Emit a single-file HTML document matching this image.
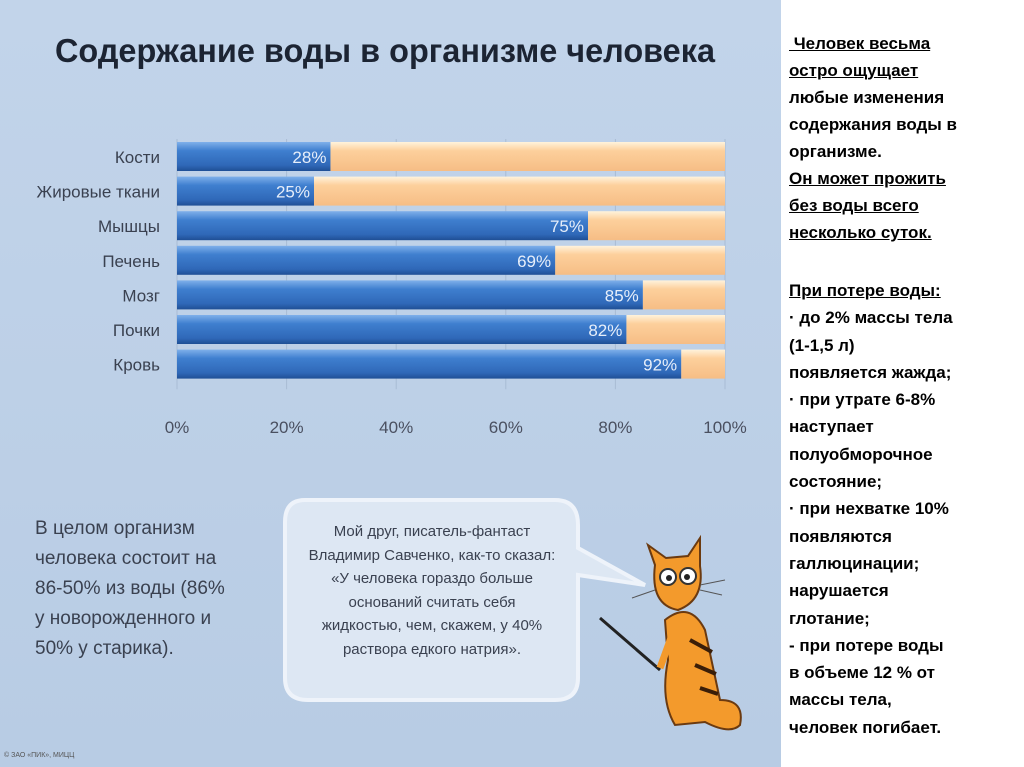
<!DOCTYPE html>
<html><head><meta charset="utf-8">
<style>
body{margin:0;width:1024px;height:767px;overflow:hidden;background:#fff;font-family:"Liberation Sans",sans-serif;}
#panel{position:absolute;left:0;top:0;width:781px;height:767px;background:linear-gradient(#c2d4ea,#b8cce4);}
#right{position:absolute;left:789px;top:30px;width:235px;font:bold 17px "Liberation Sans",sans-serif;color:#000;}
#right div{height:27px;line-height:27px;white-space:pre;}
#right div.b2{height:27.3px;line-height:27.3px;}
.u{text-decoration:underline;}
.t{position:absolute;font-family:"Liberation Sans Narrow","Liberation Sans",sans-serif;color:#3a4150;}
</style></head><body>
<div id="panel">
<svg width="781" height="767" style="position:absolute;left:0;top:0">
<defs>
<linearGradient id="gb" x1="0" y1="0" x2="0" y2="1"><stop offset="0" stop-color="#7fb0ea"/><stop offset="0.3" stop-color="#3f7fcf"/><stop offset="0.8" stop-color="#2f68b8"/><stop offset="1" stop-color="#1f4f95"/></linearGradient>
<linearGradient id="go" x1="0" y1="0" x2="0" y2="1"><stop offset="0" stop-color="#fff3dc"/><stop offset="0.3" stop-color="#fdd09c"/><stop offset="1" stop-color="#f6bd85"/></linearGradient>
</defs>
<text x="55" y="62" font-family="Liberation Sans Narrow, Liberation Sans, sans-serif" font-size="33" font-weight="bold" fill="#1c2433" textLength="660" lengthAdjust="spacingAndGlyphs">Содержание воды в организме человека</text>
<g id="chart"></g>
<path d="M305,500 H555 Q578,500 578,525 V548 L645,585 L578,575 V678 Q578,700 555,700 H308 Q285,700 285,678 V522 Q285,500 305,500 Z" fill="#dde7f3" stroke="#eef3fa" stroke-width="4"/>
<g>
<line x1="600" y1="618" x2="660" y2="670" stroke="#222" stroke-width="3"/>
<path d="M665,620 Q690,600 705,630 L720,700 Q745,700 740,725 Q730,735 705,722 L675,725 Q660,700 668,660 Z" fill="#f39a2c" stroke="#6b3a10" stroke-width="2"/>
<path d="M690,640 L712,652 M695,665 L716,674 M700,688 L718,694" stroke="#3a1e08" stroke-width="4"/>
<path d="M655,565 L648,545 L666,558 L688,556 L700,538 L700,566 Q705,600 678,610 Q650,605 655,565 Z" fill="#f39a2c" stroke="#6b3a10" stroke-width="2"/>
<circle cx="668" cy="577" r="8" fill="#fff" stroke="#333" stroke-width="2"/>
<circle cx="688" cy="576" r="8" fill="#fff" stroke="#333" stroke-width="2"/>
<circle cx="669" cy="578" r="3" fill="#222"/><circle cx="687" cy="577" r="3" fill="#222"/>
<path d="M700,585 L725,580 M700,590 L722,595 M655,590 L632,598" stroke="#555" stroke-width="1"/>
<path d="M672,635 L660,668" stroke="#f39a2c" stroke-width="7"/>
</g>
</svg>
<div class="t" style="left:35px;top:514px;font-size:19px;line-height:30px;width:200px">В целом организм<br>человека состоит на<br>86-50% из воды (86%<br>у новорожденного и<br>50% у старика).</div>
<div class="t" style="left:292px;top:520px;width:280px;text-align:center;font-size:15px;line-height:23.5px">Мой друг, писатель-фантаст<br>Владимир Савченко, как-то сказал:<br>«У человека гораздо больше<br>оснований считать себя<br>жидкостью, чем, скажем, у 40%<br>раствора едкого натрия».</div>
<div class="t" style="left:4px;top:752px;font-size:7px;color:#555">© ЗАО «ПИК», МИЦЦ</div>
</div>
<div id="right">
<div><span class="u"> Человек весьма</span></div>
<div><span class="u">остро ощущает</span></div>
<div>любые изменения</div>
<div>содержания воды в</div>
<div>организме.</div>
<div><span class="u">Он может прожить</span></div>
<div><span class="u">без воды всего</span></div>
<div><span class="u">несколько суток.</span></div>
<div style="height:31px"> </div>
<div class="b2"><span class="u">При потере воды:</span></div>
<div class="b2">· до 2% массы тела</div>
<div class="b2">(1-1,5 л)</div>
<div class="b2">появляется жажда;</div>
<div class="b2">· при утрате 6-8%</div>
<div class="b2">наступает</div>
<div class="b2">полуобморочное</div>
<div class="b2">состояние;</div>
<div class="b2">· при нехватке 10%</div>
<div class="b2">появляются</div>
<div class="b2">галлюцинации;</div>
<div class="b2">нарушается</div>
<div class="b2">глотание;</div>
<div class="b2">- при потере воды</div>
<div class="b2">в объеме 12 % от</div>
<div class="b2">массы тела,</div>
<div class="b2">человек погибает.</div>
</div>
<script>
const categories=["Кости","Жировые ткани","Мышцы","Печень","Мозг","Почки","Кровь"];
const waterValues=[28,25,75,69,85,82,92];
const tickLabels=["0%","20%","40%","60%","80%","100%"];
const tickValues=[0,20,40,60,80,100];
const NS="http://www.w3.org/2000/svg";
const g=document.getElementById("chart");
const x0=177,x1=725,yTop=139,band=34.6,bh=29;
const xs=v=>x0+(x1-x0)*v/100;
const ys=i=>yTop+i*band;
function mk(t,a){const e=document.createElementNS(NS,t);for(const k in a)e.setAttribute(k,a[k]);g.appendChild(e);return e;}
tickValues.forEach((v,i)=>{
  const l=mk("line",{x1:xs(v),x2:xs(v),y1:yTop,y2:yTop+band*categories.length+8,stroke:"#a9bcd4","stroke-width":1});
  
  
  const t=mk("text",{x:xs(v),y:433,"text-anchor":"middle","font-size":17,fill:"#4a5060","font-family":"Liberation Sans Narrow, Liberation Sans, sans-serif"});
  t.textContent=tickLabels[i];
  
  
});
categories.forEach((c,i)=>{
  const y=ys(i)+3;
  const bg=mk("rect",{x:xs(waterValues[i]),y:y,width:xs(100)-xs(waterValues[i]),height:bh,fill:"url(#go)"});
  
  
  const b=mk("rect",{x:x0,y:y,width:xs(waterValues[i])-x0,height:bh,fill:"url(#gb)"});
  
  
  const v=mk("text",{x:xs(waterValues[i])-4,y:y+21,"text-anchor":"end","font-size":17,fill:"#e6eefa","font-family":"Liberation Sans Narrow, Liberation Sans, sans-serif"});
  v.textContent=waterValues[i]+"%";
  
  
  const t=mk("text",{x:160,y:y+21,"text-anchor":"end","font-size":17,fill:"#3a4150","font-family":"Liberation Sans Narrow, Liberation Sans, sans-serif"});
  t.textContent=c;
  
  
});
</script>
</body></html>
